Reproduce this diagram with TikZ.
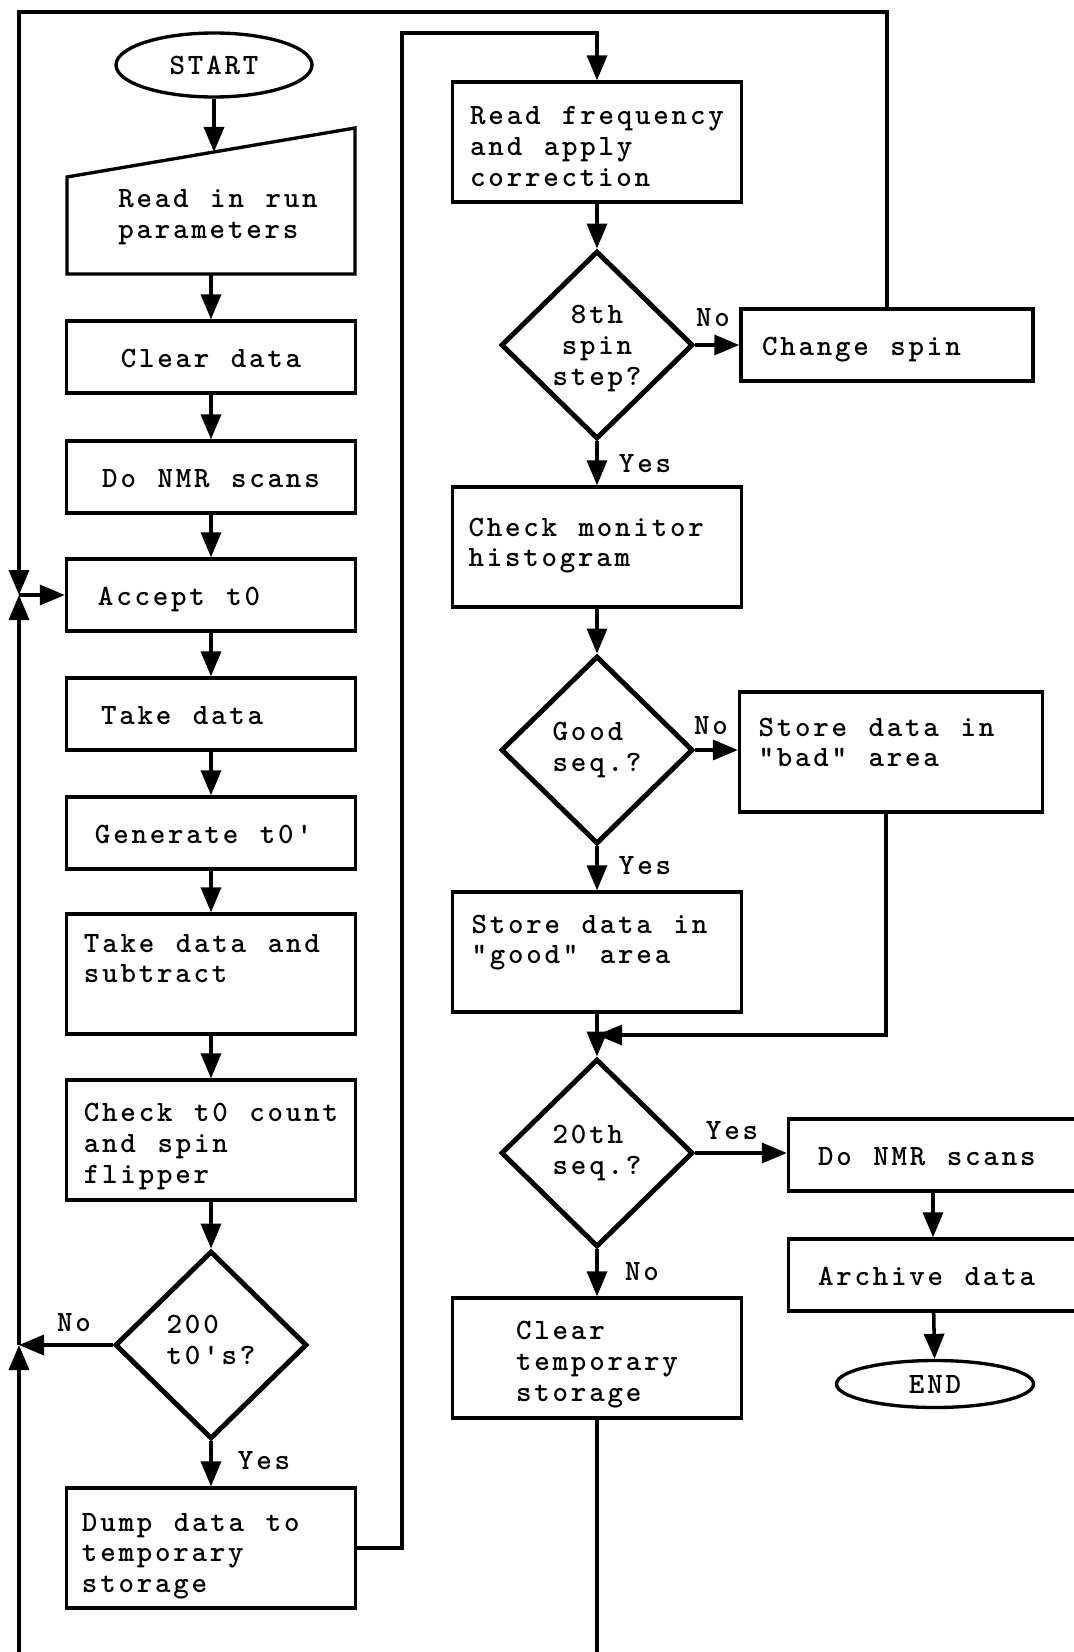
\documentclass[tikz,border=0pt]{standalone}
\usepackage{fontspec}
\setmonofont[LetterSpace=9.4, WordSpace=1.18]{lmmonolt10-bold.otf}
\usetikzlibrary{arrows.meta, shapes.geometric}

\tikzset{
  box/.style={draw, line width=1.9pt, minimum width=57.8mm, minimum height=14.4mm, inner xsep=0pt, align=left,
    text height=4mm, text depth=0pt, execute at begin node={\spaceskip=0pt\xspaceskip=0pt}},
  tallbox/.style={box, minimum height=24mm, text height=#1, text depth=0pt},
  tallfixed/.style={box, minimum height=24mm, text height=0pt, text depth=#1},
  decision/.style={draw, diamond, line width=2.8pt, minimum width=38.4mm, minimum height=37.6mm, inner sep=0pt, align=left},
  terminal/.style={draw, ellipse, line width=1.9pt, inner sep=0pt},
  flow/.style={line width=2pt, -{Triangle[length=5mm,width=4mm]}},
  wire/.style={line width=2pt},
  answer/.style={inner sep=0pt}
}

\begin{document}
\begin{tikzpicture}[x=0.2mm, y=-0.2mm, font=\ttfamily\fontsize{16.8pt}{17.6pt}\selectfont]
\useasboundingbox (0,0) rectangle (1073,1652);
\path coordinate (topleft) at (19,12)
      coordinate (junc) at (19,595)
      coordinate (nojunc) at (19,1345)
      coordinate (botleft) at (19,1652)
      coordinate (botmid) at (597,1652)
      coordinate (upleft) at (402,33)
      coordinate (badturn) at (886,1035)
      coordinate (badin) at (597,1035)
      coordinate (rp1) at (67,177)
      coordinate (rp2) at (355,128)
      coordinate (rp3) at (355,274)
      coordinate (rp4) at (67,274)
      coordinate (rptop) at (214,152)
      coordinate (rpbot) at (211,274);

% left column
\node[terminal, minimum width=39.2mm, minimum height=12.8mm] (start) at (214,65) {START};
\draw[line width=1.9pt] (rp1) -- (rp2) -- (rp3) -- (rp4) -- cycle;
\node[anchor=west, align=left, inner sep=0pt] (readpar) at (118,217) {Read in run\\parameters};
\node[box] (cleardata) at (211,357) {Clear data};
\node[box] (nmrA) at (211,477) {Do NMR scans};
\node[box, text width=45.2mm] (accept) at (211,595) {Accept t0};
\node[box, text width=44mm] (takeA) at (211,714) {Take data};
\node[box, text width=46.4mm] (gen) at (211,833) {Generate t0'};
\node[tallfixed=8.8mm, text width=50.8mm] (takesub) at (211,974) {Take data and\\subtract};
\node[tallbox=17.2mm] (check) at (211,1140) {Check t0 count\\and spin\\flipper};
\node[decision, text depth=6pt] (tcount) at (211,1345) {200\\t0's?};
\node[tallfixed=6.8mm, text width=51.6mm] (dump) at (211,1548) {Dump data to\\temporary\\storage};
\node[answer] (yesA) at (264,1461) {Yes};
\node[answer] (noA) at (74,1323) {No};

% right column
\node[tallbox=17.6mm] (readfreq) at (597,142) {Read frequency\\and apply\\correction};
\node[decision, align=center, text depth=0pt] (spin8) at (597,345) {8th\\spin\\step?};
\node[box, minimum width=58.4mm, text width=50mm] (changespin) at (887,345) {Change spin};
\node[tallfixed=4.4mm, text width=51.4mm] (checkmon) at (597,547) {Check monitor\\histogram};
\node[decision] (goodseq) at (597,750) {Good\\seq.?};
\node[tallfixed=6.4mm, minimum width=60.6mm, text width=53mm] (storebad) at (891,752) {Store data in\\"bad" area};
\node[tallfixed=7.6mm, text width=50.2mm] (storegood) at (597,952) {Store data in\\"good" area};
\node[decision] (seq20) at (597,1153) {20th\\seq.?};
\node[box, text width=46mm] (nmrB) at (933,1155) {Do NMR scans};
\node[box, text width=46mm] (archive) at (933,1275) {Archive data};
\node[terminal, minimum width=39.4mm, minimum height=9.4mm] (finish) at (935,1384) {END};
\node[tallbox=17.2mm] (cleartemp) at (597,1358) {Clear\\temporary\\storage};
\node[answer] (noB) at (713,318) {No};
\node[answer] (yesB) at (645,464) {Yes};
\node[answer] (noC) at (711,726) {No};
\node[answer] (yesC) at (645,866) {Yes};
\node[answer] (yesD) at (732,1131) {Yes};
\node[answer] (noD) at (642,1272) {No};

% connectors
\draw[flow] (start.south) -- (rptop);
\draw[flow] (rpbot) -- (cleardata);
\draw[flow] (cleardata) -- (nmrA);
\draw[flow] (nmrA) -- (accept);
\draw[flow] (accept) -- (takeA);
\draw[flow] (takeA) -- (gen);
\draw[flow] (gen) -- (takesub);
\draw[flow] (takesub) -- (check);
\draw[flow] (check) -- (tcount);
\draw[flow] (tcount) -- (dump);
\draw[flow] (tcount.west) -- (nojunc);
\draw[flow] (botleft) -- (nojunc);
\draw[flow] (nojunc) -- (junc);
\draw[flow] (changespin.north) |- (topleft) -- (junc);
\draw[flow] (junc) -- (accept.west);
\draw[flow] (dump.east) -| (upleft) -| (readfreq.north);
\draw[flow] (readfreq) -- (spin8);
\draw[flow] (spin8.east) -- (spin8.east -| changespin.west);
\draw[flow] (spin8) -- (checkmon);
\draw[flow] (checkmon) -- (goodseq);
\draw[flow] (goodseq.east) -- (goodseq.east -| storebad.west);
\draw[flow] (goodseq) -- (storegood);
\draw[flow] (storegood) -- (seq20);
\draw[flow] (badturn |- storebad.south) |- (badin);
\draw[flow] (seq20.east) -- (seq20.east -| nmrB.west);
\draw[flow] (seq20) -- (cleartemp);
\draw[flow] (nmrB) -- (archive);
\draw[flow] (archive) -- (finish);
\draw[wire] (cleartemp) -- (botmid);
\end{tikzpicture}
\end{document}
